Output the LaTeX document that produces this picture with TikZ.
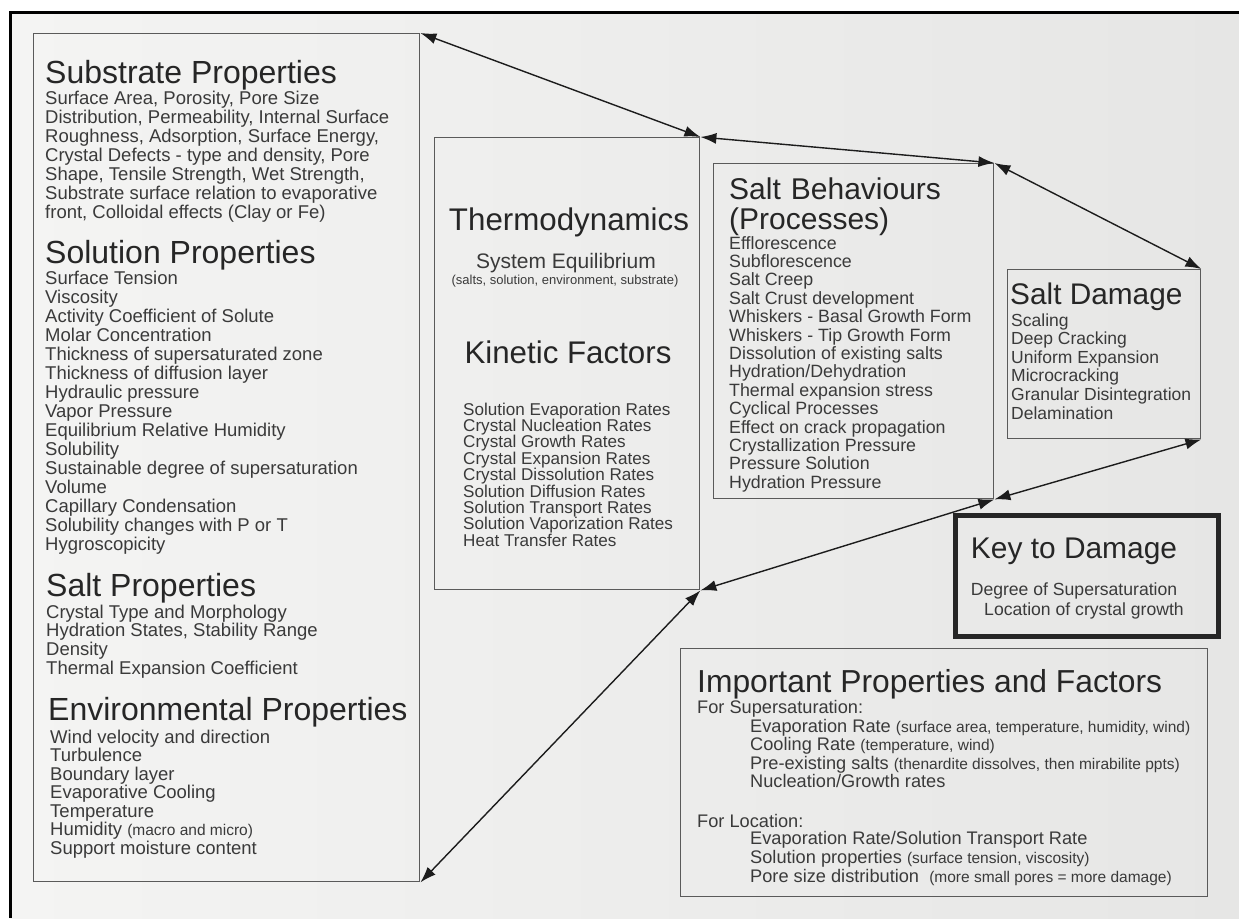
\documentclass[tikz,border=0pt]{standalone}
\usepackage{fontspec}
\setmainfont{Liberation Sans}
\usetikzlibrary{arrows.meta}
\newcommand{\myfs}[1]{\fontsize{#1}{#1}\selectfont}
\definecolor{bgL}{HTML}{F4F4F3}
\definecolor{bgR}{HTML}{E6E6E5}
\definecolor{boxgray}{HTML}{5A5A5A}
\definecolor{txt}{HTML}{3A3A3A}
\definecolor{hd}{HTML}{262626}
\definecolor{arr}{HTML}{1C1C1C}
\tikzset{
  box/.style={draw=boxgray, line width=1.4pt, inner sep=0pt, anchor=north west},
  keybox/.style={draw=hd, line width=4.5pt, inner sep=0pt, anchor=north west},
  body/.style={anchor=base west, inner sep=0pt, text=txt},
  head/.style={anchor=base west, inner sep=0pt, text=hd},
  link/.style={{Latex[length=16pt,width=11pt]}-{Latex[length=16pt,width=11pt]}, line width=1.4pt, draw=arr},
}
\begin{document}
\begin{tikzpicture}[x=1pt,y=-1pt]
\useasboundingbox (0,0) rectangle (1239,918);
\fill[white] (0,0) rectangle (1239,918);
\fill[left color=bgL, right color=bgR] (10,12) rectangle (1239,918);
\draw[line width=3pt, black] (10,918) -- (10,12) -- (1239,12);

% boxes
\node[box, minimum width=386pt, minimum height=848pt] (lb) at (33,33) {};
\node[box, minimum width=265pt, minimum height=452pt] (th) at (434,137) {};
\node[box, minimum width=280pt, minimum height=335pt] (sb) at (713,163) {};
\node[box, minimum width=193pt, minimum height=169pt] (sd) at (1007,269) {};
\node[keybox, minimum width=263pt, minimum height=121pt] (kd) at (953,513) {};
\node[box, minimum width=527pt, minimum height=248pt] (ip) at (680,648) {};

% left box texts
\node[head, font=\myfs{32}] (h1) at (45,83) {Substrate Properties};
\foreach \t [count=\i from 0] in {{Surface Area, Porosity, Pore Size},{Distribution, Permeability, Internal Surface},{Roughness, Adsorption, Surface Energy,},{Crystal Defects - type and density, Pore},{Shape, Tensile Strength, Wet Strength,},{Substrate surface relation to evaporative},{front, Colloidal effects (Clay or Fe)}}
  \node[body, font=\myfs{18.5}] (s\i) at (45,{104+19*\i}) {\t};

\node[head, font=\myfs{32}] (h2) at (45,263) {Solution Properties};
\foreach \t [count=\i from 0] in {Surface Tension,Viscosity,Activity Coefficient of Solute,Molar Concentration,Thickness of supersaturated zone,Thickness of diffusion layer,Hydraulic pressure,Vapor Pressure,Equilibrium Relative Humidity,Solubility,Sustainable degree of supersaturation,Volume,Capillary Condensation,Solubility changes with P or T,Hygroscopicity}
  \node[body, font=\myfs{18.5}] (so\i) at (45,{284+19*\i}) {\t};

\node[head, font=\myfs{32}] (h3) at (46,596) {Salt Properties};
\foreach \t [count=\i from 0] in {Crystal Type and Morphology,{Hydration States, Stability Range},Density,Thermal Expansion Coefficient}
  \node[body, font=\myfs{18.5}] (sp\i) at (46,{618+18.8*\i}) {\t};

\node[head, font=\myfs{32}] (h4) at (48,720) {Environmental Properties};
\foreach \t [count=\i from 0] in {Wind velocity and direction,Turbulence,Boundary layer,Evaporative Cooling,Temperature,{Humidity {\myfs{15.5}(macro and micro)}},Support moisture content}
  \node[body, font=\myfs{18.5}] (ep\i) at (50,{743+18.5*\i}) {\t};

% thermodynamics box
\node[head, anchor=base, font=\myfs{31.3}] (t1) at (569,230) {Thermodynamics};
\node[body, anchor=base, font=\myfs{21}] (t2) at (566,268) {System Equilibrium};
\node[body, anchor=base, font=\myfs{13}] (t3) at (565,284) {(salts, solution, environment, substrate)};
\node[head, anchor=base, font=\myfs{31.3}] (t4) at (568,363) {Kinetic Factors};
\foreach \t [count=\i from 0] in {Solution Evaporation Rates,Crystal Nucleation Rates,Crystal Growth Rates,Crystal Expansion Rates,Crystal Dissolution Rates,Solution Diffusion Rates,Solution Transport Rates,Solution Vaporization Rates,Heat Transfer Rates}
  \node[body, font=\myfs{17.1}] (k\i) at (463,{415+16.4*\i}) {\t};

% salt behaviours
\node[head, text width=260pt, align=left, font=\fontsize{30}{30}\selectfont] (b1) at (729,199) {Salt Behaviours\\(Processes)};
\foreach \t [count=\i from 0] in {Efflorescence,Subflorescence,Salt Creep,Salt Crust development,Whiskers - Basal Growth Form,Whiskers - Tip Growth Form,Dissolution of existing salts,Hydration/Dehydration,Thermal expansion stress,Cyclical Processes,Effect on crack propagation,Crystallization Pressure,Pressure Solution,Hydration Pressure}
  \node[body, font=\myfs{17.8}] (bl\i) at (729,{249+18.4*\i}) {\t};

% salt damage
\node[head, font=\myfs{29.8}] (d1) at (1010,304) {Salt Damage};
\foreach \t [count=\i from 0] in {Scaling,Deep Cracking,Uniform Expansion,Microcracking,Granular Disintegration,Delamination}
  \node[body, font=\myfs{17.5}] (dl\i) at (1011,{326+18.6*\i}) {\t};

% key to damage
\node[head, anchor=base, font=\myfs{29.9}] (kt) at (1074,558) {Key to Damage};
\node[body, anchor=base, font=\myfs{17.6}] (kl1) at (1074,595) {Degree of Supersaturation};
\node[body, anchor=base, font=\myfs{17.6}] (kl2) at (1084,615) {Location of crystal growth};

% important properties
\node[head, font=\myfs{31.8}] (it) at (697,692) {Important Properties and Factors};
\node[body, font=\myfs{18.2}] (fs) at (697,713) {For Supersaturation:};
\foreach \t [count=\i from 0] in {{Evaporation Rate {\myfs{15.5}(surface area, temperature, humidity, wind)}},{Cooling Rate {\myfs{15.5}(temperature, wind)}},{Pre-existing salts {\myfs{15.5}(thenardite dissolves, then mirabilite ppts)}},Nucleation/Growth rates}
  \node[body, font=\myfs{18.2}] (fsl\i) at (750,{732+18.6*\i}) {\t};
\node[body, font=\myfs{18.2}] (fl) at (697,827) {For Location:};
\foreach \t [count=\i from 0] in {Evaporation Rate/Solution Transport Rate,{Solution properties {\myfs{15.5}(surface tension, viscosity)}},{Pore size distribution\ \ {\myfs{15.5}(more small pores = more damage)}}}
  \node[body, font=\myfs{18.2}] (fll\i) at (750,{844+19*\i}) {\t};

% connectors
\draw[link] (lb.north east) -- (th.north east);
\draw[link] (th.north east) -- (sb.north east);
\draw[link] (sb.north east) -- (sd.north east);
\draw[link] (sd.south east) -- (sb.south east);
\draw[link] (sb.south east) -- (th.south east);
\draw[link] (th.south east) -- (lb.south east);
\end{tikzpicture}
\end{document}
